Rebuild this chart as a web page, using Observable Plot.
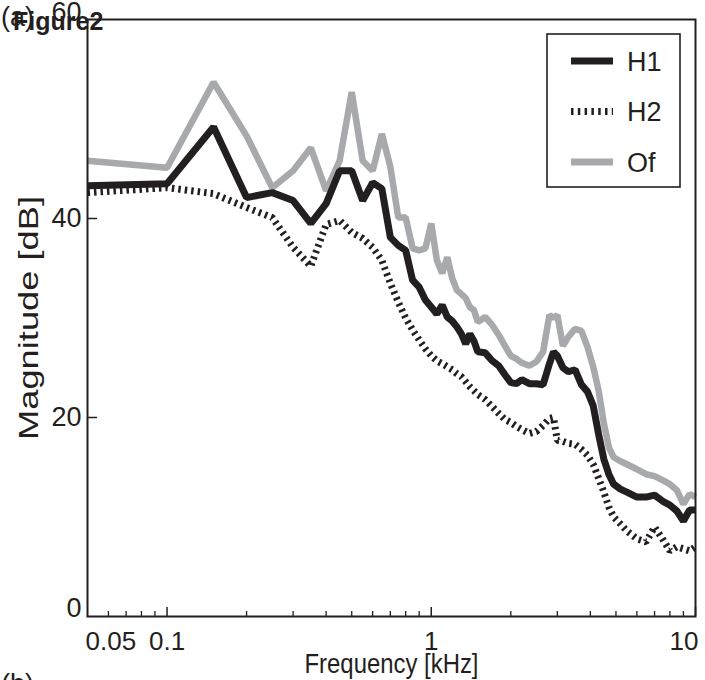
<!DOCTYPE html>
<html>
<head>
<meta charset="utf-8">
<script src="https://cdn.jsdelivr.net/npm/d3@7"></script>
<script src="https://cdn.jsdelivr.net/npm/@observablehq/plot@0.6"></script>
<style>
  html, body { margin: 0; padding: 0; background: #fff; }
  body { width: 705px; height: 680px; position: relative; overflow: hidden; font-family: "Liberation Sans", Arial, Helvetica, sans-serif; }
  #chart { position: absolute; left: 0; top: 0; }
  .ov { position: absolute; color: #231f20; white-space: nowrap; line-height: 1; }
</style>
</head>
<body>
<div id="chart"></div>
<div class="ov" style="left:1px; top:4px; font-size:27px;">(a)</div>
<div class="ov" style="left:13px; top:9px; font-size:25px; font-weight:bold;">Figure2</div>
<div class="ov" style="left:1px; top:671px; font-size:27px;">(b)</div>
<svg id="legend" style="position:absolute; left:546px; top:33px;" width="136" height="156"></svg>
<script>
// ---- data ----
const freqs = [0.05,0.1,0.15,0.2,0.25,0.3,0.35,0.4,0.45,0.5,0.55,0.6,0.65,0.7,0.75,0.8,0.85,0.9,0.95,1.0,
  1.05,1.1,1.15,1.2,1.25,1.3,1.35,1.4,1.45,1.5,
  1.6,1.7,1.8,1.9,2.0,2.1,2.2,2.35,2.5,2.65,2.8,2.9,3.0,3.15,3.3,3.5,3.7,3.9,4.1,4.3,4.5,4.7,4.9,
  5.2,5.5,6.0,6.5,7.0,7.5,8.0,8.5,9.0,9.5,10];

const h1 = [43.3,43.5,49.2,42.1,42.6,41.8,39.5,41.5,44.8,44.8,41.8,43.6,43.0,38.1,37.3,36.8,33.8,33.1,31.8,31.1,
  30.4,31.3,30.1,29.7,29.1,28.4,27.4,28.4,27.7,26.6,
  26.5,25.7,25.2,24.3,23.5,23.4,23.8,23.4,23.4,23.3,25.4,26.6,26.2,25.0,24.6,24.8,23.3,22.6,21.2,18.3,15.8,14.3,13.3,
  12.8,12.5,12.0,12.0,12.2,11.6,11.2,10.6,9.6,10.7,10.7];

const h2 = [42.6,43.1,42.5,41.1,40.1,37.1,35.2,39.4,39.8,38.6,38.0,37.1,35.8,33.5,31.6,30.0,28.8,27.8,26.9,26.2,
  25.7,25.4,25.1,24.8,24.4,24.1,23.6,23.1,22.7,22.3,
  21.8,21.1,20.4,19.8,19.5,19.1,18.8,18.4,18.6,19.2,19.9,20.0,17.7,17.6,17.4,17.3,16.8,16.2,15.3,13.9,12.5,11.0,10.0,
  9.3,8.6,7.8,7.5,9.0,7.8,6.6,7.0,6.8,6.6,7.0];

const of = [45.8,45.1,53.7,48.3,43.1,44.8,47.1,42.8,45.8,52.7,45.8,44.8,48.5,45.2,40.1,40.1,37.0,36.8,37.0,39.5,
  35.8,34.5,36.1,34.0,32.8,32.4,32.0,31.1,30.8,29.6,
  30.1,29.3,28.3,27.2,26.2,25.9,25.5,25.2,25.6,26.6,30.3,30.0,30.3,27.2,28.1,28.9,28.7,27.1,25.1,22.7,19.4,17.0,16.0,
  15.6,15.3,14.8,14.3,14.1,13.7,13.3,12.7,11.3,12.3,12.0];

const seriesNames = ["H1", "H2", "Of"];
const xTickLabels = [0.05, 0.1, 1, 10];
const xMajorTicks = [0.1, 1, 10];
const xMinorTicks = [0.06,0.07,0.08,0.09,0.2,0.3,0.4,0.5,0.6,0.7,0.8,0.9,2,3,4,5,6,7,8,9];
const yTickLabels = [0, 20, 40, 60];
const xLabel = "Frequency [kHz]";
const yLabel = "Magnitude [dB]";

// ---- styles ----
const INK = "#231f20", GREY = "#a7a9ac";
const FONT = "Liberation Sans, Arial, Helvetica, sans-serif";
const W = 705, H = 680, ML = 87, MR = 10, MT = 19, MB = 64;
const xDomain = [0.05, 10], yDomain = [0, 60];

const rows = (vals) => freqs.map((f, i) => ({f, v: vals[i]}));

// helper scales to convert pixel tick lengths into data units
const xs = Plot.scale({x: {type: "log", domain: xDomain, range: [ML, W - MR]}});
const ys = Plot.scale({y: {type: "linear", domain: yDomain, range: [H - MB, MT]}});
const yPx = (px) => ys.invert(H - MB - px);
const xPx = (px) => xs.invert(ML + px);

const chart = Plot.plot({
  width: W, height: H,
  marginLeft: ML, marginRight: MR, marginTop: MT, marginBottom: MB,
  style: {fontFamily: FONT, background: "#fff", color: INK, overflow: "visible"},
  x: {type: "log", domain: xDomain, axis: null},
  y: {domain: yDomain, axis: null},
  marks: [
    // data lines
    Plot.line(rows(of), {x: "f", y: "v", stroke: GREY, strokeWidth: 6.5, strokeLinejoin: "miter", strokeLinecap: "butt"}),
    Plot.line(rows(h2), {x: "f", y: "v", stroke: INK, strokeWidth: 7, strokeDasharray: "2.5,4", strokeLinejoin: "miter", strokeLinecap: "butt"}),
    Plot.line(rows(h1), {x: "f", y: "v", stroke: INK, strokeWidth: 7, strokeLinejoin: "miter", strokeLinecap: "butt"}),
    // frame
    Plot.frame({stroke: INK, strokeWidth: 2}),
    // inward ticks
    Plot.ruleX(xMajorTicks, {x: d => d, y1: 0, y2: yPx(9), stroke: INK, strokeWidth: 1.5}),
    Plot.ruleX(xMinorTicks, {x: d => d, y1: 0, y2: yPx(5), stroke: INK, strokeWidth: 1.3}),
    Plot.ruleY(yTickLabels.filter(d => d > 0 && d < 60), {y: d => d, x1: xDomain[0], x2: xPx(10), stroke: INK, strokeWidth: 1.5}),
    // x tick labels
    Plot.text(xTickLabels.filter(d => d !== 0.05 && d !== 10), {x: d => d, y: 0, text: d => String(d), dy: 25, fontSize: 26, fill: INK, lineAnchor: "middle"}),
    Plot.text(xTickLabels.filter(d => d === 0.05), {x: d => d, y: 0, text: d => String(d), dy: 25, dx: -2, textAnchor: "start", fontSize: 26, fill: INK, lineAnchor: "middle"}),
    Plot.text(xTickLabels.filter(d => d === 10), {x: d => d, y: 0, text: d => String(d), dy: 25, dx: 3, textAnchor: "end", fontSize: 26, fill: INK, lineAnchor: "middle"}),
    // y tick labels
    Plot.text(yTickLabels.filter(d => d > 0 && d < 60), {x: xDomain[0], y: d => d, text: d => String(d), dx: -6, textAnchor: "end", fontSize: 27, fill: INK, lineAnchor: "middle"}),
    Plot.text(yTickLabels.filter(d => d === 0), {x: xDomain[0], y: d => d, text: d => String(d), dx: -6, dy: -8, textAnchor: "end", fontSize: 27, fill: INK, lineAnchor: "middle"}),
    Plot.text(yTickLabels.filter(d => d === 60), {x: xDomain[0], y: d => d, text: d => String(d), dx: -6, dy: -7, textAnchor: "end", fontSize: 27, fill: INK, lineAnchor: "middle"}),
    // axis titles
    Plot.text([xLabel], {frameAnchor: "bottom", text: d => d, dy: 48, textAnchor: "middle", fontSize: 28, fill: INK, lineAnchor: "middle"}),
    Plot.text([yLabel], {frameAnchor: "left", text: d => d, dx: -58, rotate: -90, textAnchor: "middle", fontSize: 28, fill: INK, lineAnchor: "middle"})
  ]
});
document.getElementById("chart").appendChild(chart);

// the reference's lettering is slightly condensed / stretched: fit the axis titles to its extents
d3.select(chart).selectAll("text").filter(function() { return this.textContent === xLabel; })
  .attr("textLength", 174).attr("lengthAdjust", "spacingAndGlyphs");
d3.select(chart).selectAll("text").filter(function() { return this.textContent === yLabel; })
  .attr("textLength", 244).attr("lengthAdjust", "spacingAndGlyphs");

// ---- legend ----
const legend = d3.select("#legend");
legend.append("rect").attr("x", 1).attr("y", 1).attr("width", 133).attr("height", 153)
  .attr("fill", "#fff").attr("stroke", INK).attr("stroke-width", 1.6);
const legendStyles = [
  {name: seriesNames[0], stroke: INK, dash: null},
  {name: seriesNames[1], stroke: INK, dash: "2.5,4.3"},
  {name: seriesNames[2], stroke: GREY, dash: null}
];
legendStyles.forEach((s, i) => {
  const cy = 28 + i * 50.5;
  legend.append("line").attr("x1", 25).attr("x2", 67).attr("y1", cy).attr("y2", cy)
    .attr("stroke", s.stroke).attr("stroke-width", 7).attr("stroke-dasharray", s.dash);
  legend.append("text").attr("x", 81).attr("y", cy).attr("dy", "0.36em")
    .attr("font-family", FONT).attr("font-size", 27).attr("fill", INK).text(s.name);
});
</script>
</body>
</html>
